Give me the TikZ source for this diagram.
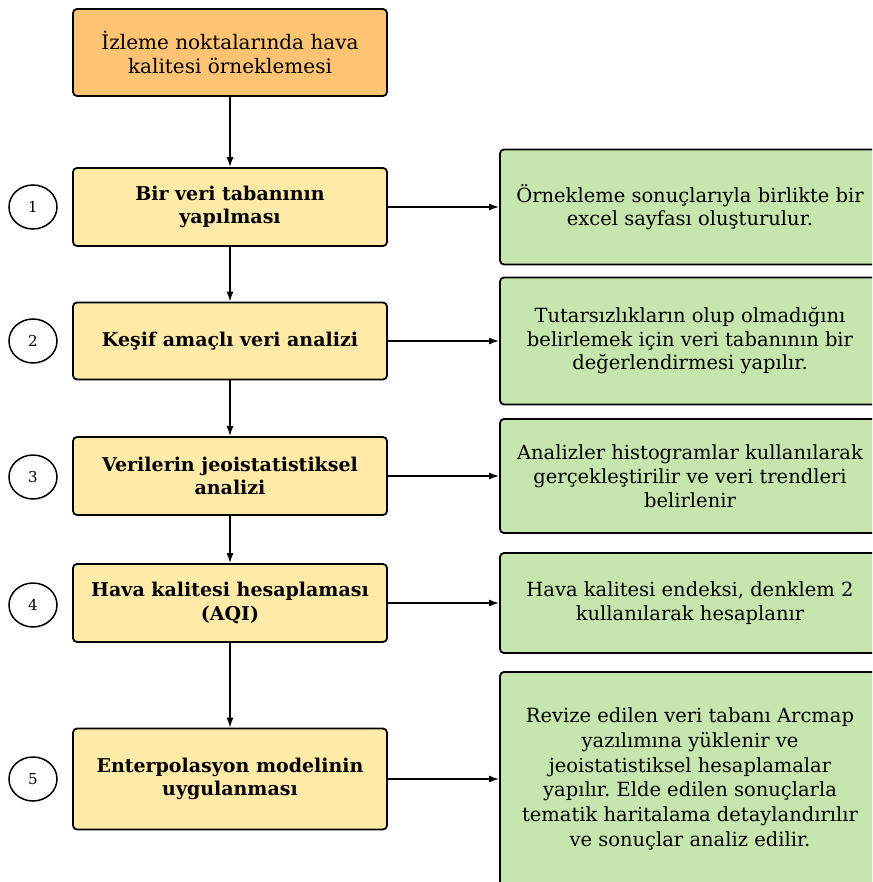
\documentclass[tikz,border=0pt]{standalone}
\usepackage{fontspec}
\setmainfont{DejaVu Serif}
\frenchspacing
\usetikzlibrary{shapes.geometric,arrows.meta}
\definecolor{orfill}{HTML}{FFC374}
\definecolor{yefill}{HTML}{FFEAA7}
\definecolor{grfill}{HTML}{C6E6AD}
\tikzset{
  box/.style={draw=black, line width=1.8pt, rounded corners=4pt, align=center, inner sep=0pt},
  topbox/.style={box, fill=orfill, minimum width=314pt, font=\fontsize{20}{23.5}\selectfont},
  stepbox/.style={box, fill=yefill, minimum width=314pt, font=\fontsize{19}{23.5}\selectfont\bfseries},
  notebox/.style={box, fill=grfill, minimum width=380pt, font=\fontsize{19.5}{24}\selectfont},
  numcirc/.style={draw=black, line width=1.5pt, ellipse, minimum width=48pt, minimum height=44pt, inner sep=0pt, font=\fontsize{15}{17}\selectfont},
  arr/.style={draw=black, line width=1.4pt, -{Latex[length=10pt,width=7pt]}}
}
\begin{document}
\begin{tikzpicture}[x=1pt,y=-1pt]
\useasboundingbox (0,0) rectangle (872,882);
\fill[white] (0,0) rectangle (872,882);
\clip (0,0) rectangle (872,882);
\node[topbox, minimum height=87pt] (t) at (230,52.5) {İzleme noktalarında hava\\kalitesi örneklemesi};
\node[stepbox, minimum height=78pt] (b1) at (230,207) {Bir veri tabanının\\yapılması};
\node[stepbox, minimum height=77pt] (b2) at (230,341) {Keşif amaçlı veri analizi};
\node[stepbox, minimum height=78pt] (b3) at (230,476) {Verilerin jeoistatistiksel\\analizi};
\node[stepbox, minimum height=78pt] (b4) at (230,603) {Hava kalitesi hesaplaması\\(AQI)};
\node[stepbox, minimum height=101pt] (b5) at (230,779) {Enterpolasyon modelinin\\uygulanması};
\node[notebox, minimum height=115pt, font=\fontsize{19.5}{22.5}\selectfont] (g1) at (690,207) {Örnekleme sonuçlarıyla birlikte bir\\excel sayfası oluşturulur.};
\node[notebox, minimum height=127pt, font=\fontsize{19.5}{23.5}\selectfont] (g2) at (690,341) {Tutarsızlıkların olup olmadığını\\belirlemek için veri tabanının bir\\değerlendirmesi yapılır.};
\node[notebox, minimum height=114pt] (g3) at (690,476) {Analizler histogramlar kullanılarak\\gerçekleştirilir ve veri trendleri\\belirlenir};
\node[notebox, minimum height=100pt] (g4) at (690,603) {Hava kalitesi endeksi, denklem 2\\kullanılarak hesaplanır};
\node[notebox, minimum height=214pt, font=\fontsize{19.5}{24.8}\selectfont] (g5) at (690,779) {Revize edilen veri tabanı Arcmap\\yazılımına yüklenir ve\\jeoistatistiksel hesaplamalar\\yapılır. Elde edilen sonuçlarla\\tematik haritalama detaylandırılır\\ve sonuçlar analiz edilir.};
\node[numcirc] (c1) at (33,207) {1};
\node[numcirc] (c2) at (33,341) {2};
\node[numcirc] (c3) at (33,477) {3};
\node[numcirc] (c4) at (33,605) {4};
\node[numcirc] (c5) at (33,779) {5};
\draw[arr] (t) -- (b1);
\draw[arr] (b1) -- (b2);
\draw[arr] (b2) -- (b3);
\draw[arr] (b3) -- (b4);
\draw[arr] (b4) -- (b5);
\draw[arr] (b1) -- (g1);
\draw[arr] (b2) -- (g2);
\draw[arr] (b3) -- (g3);
\draw[arr] (b4) -- (g4);
\draw[arr] (b5) -- (g5);
\end{tikzpicture}
\end{document}
